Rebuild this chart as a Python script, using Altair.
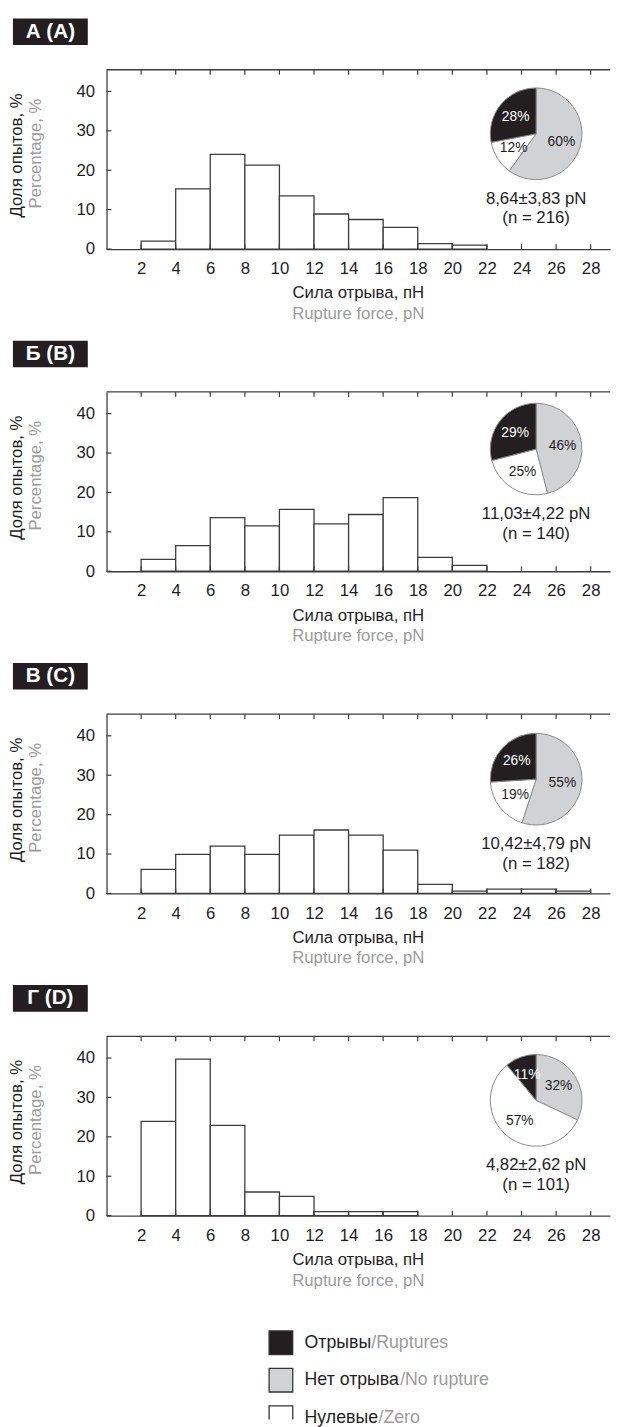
import altair as alt
import pandas as pd

# ---------------- data ----------------
bin_start = [2, 4, 6, 8, 10, 12, 14, 16, 18, 20, 22, 24, 26]
bin_width = 2
pct_A = [2.0, 15.3, 24.0, 21.3, 13.5, 8.9, 7.5, 5.5, 1.4, 1.0, 0, 0, 0]
pct_B = [3.0, 6.5, 13.6, 11.5, 15.7, 12.0, 14.4, 18.7, 3.5, 1.5, 0, 0, 0]
pct_C = [6.1, 9.9, 12.0, 9.9, 14.8, 16.1, 14.8, 11.0, 2.3, 0.6, 1.1, 1.1, 0.6]
pct_D = [23.9, 39.7, 22.9, 6.0, 4.9, 1.0, 1.0, 1.0, 0, 0, 0, 0, 0]

panel_labels = ["А (A)", "Б (B)", "В (C)", "Г (D)"]
stats_mean = ["8,64±3,83 pN", "11,03±4,22 pN", "10,42±4,79 pN", "4,82±2,62 pN"]
stats_n = ["(n = 216)", "(n = 140)", "(n = 182)", "(n = 101)"]

# pie slices, clockwise from 12 o'clock
pie_cats = ["Нет отрыва", "Нулевые", "Отрывы"]
pie_A = [60, 12, 28]
pie_B = [46, 25, 29]
pie_C = [55, 19, 26]
pie_D = [32, 57, 11]

x_ticks = [2, 4, 6, 8, 10, 12, 14, 16, 18, 20, 22, 24, 26, 28]
y_ticks = [0, 10, 20, 30, 40]

y_title_ru = "Доля опытов, %"
y_title_en = "Percentage, %"
x_title_ru = "Сила отрыва, пН"
x_title_en = "Rupture force, pN"

legend_ru = ["Отрывы", "Нет отрыва", "Нулевые"]
legend_en = ["/Ruptures", "/No rupture", "/Zero"]

# ---------------- style ----------------
W, H = 511, 182
XMAX, YMAX = 29.12, 45.5
FONT = "Liberation Sans"
DARK = "#231f20"
GRAY_FILL = "#d1d2d4"
GRAY_TXT = "#9b9b9b"
LINE = "#3c3c3c"
TXT = "#1e1e1e"

xs = alt.Scale(domain=[0, XMAX], nice=False, zero=False)
ys = alt.Scale(domain=[0, YMAX], nice=False)
x_axis = alt.Axis(values=x_ticks, ticks=False, tickSize=0, grid=False, title=None,
                  labelPadding=12, labelOverlap=False, domainColor=LINE, domainWidth=1.3)
y_axis = alt.Axis(values=y_ticks, ticks=False, tickSize=0, grid=False, title=None,
                  labelPadding=12, labelOverlap=False, domainColor=LINE, domainWidth=1.3)

pie_cy = [65, 58, 66, 65]
PIE_CX = 436
PIE_R = 46.5
LEG_X = 177
LEG_TX = 201
BOX_TOP, BOX_H = -52, 27
# approximate pixel widths of the black legend words at 18px (for placing the grey part)
LEG_W = [67.7, 97.0, 75.0]


def one(text):
    return pd.DataFrame({"t": [text]})


def panel(k, values, pie):
    df = pd.DataFrame({
        "x0": bin_start,
        "x1": [b + bin_width for b in bin_start],
        "pct": values,
    })
    df = df[df["pct"] > 0]
    bars = alt.Chart(df).mark_rect(fill="white", stroke=LINE, strokeWidth=1.3).encode(
        x=alt.X("x0:Q", scale=xs, axis=x_axis),
        x2="x1:Q",
        y=alt.Y("pct:Q", scale=ys, axis=y_axis),
        y2=alt.datum(0),
    )
    top = alt.Chart(one("")).mark_rule(color=LINE, strokeWidth=1.3).encode(
        x=alt.value(0), x2=alt.value(W), y=alt.value(0))
    xt = pd.DataFrame({"t": x_ticks})
    tick_top = alt.Chart(xt).mark_rule(color=LINE, strokeWidth=1.2).encode(
        x=alt.X("t:Q", scale=xs, axis=x_axis), y=alt.value(0), y2=alt.value(5))
    tick_bot = alt.Chart(xt).mark_rule(color=LINE, strokeWidth=1.2).encode(
        x=alt.X("t:Q", scale=xs, axis=x_axis), y=alt.value(H - 5), y2=alt.value(H))
    tick_y = alt.Chart(pd.DataFrame({"t": y_ticks})).mark_rule(color=LINE, strokeWidth=1.2).encode(
        y=alt.Y("t:Q", scale=ys, axis=y_axis), x=alt.value(0), x2=alt.value(5))

    pdf = pd.DataFrame({"cat": pie_cats, "v": pie, "o": [0, 1, 2]})
    pdf["lab"] = [f"{v}%" for v in pie]
    cy = pie_cy[k]
    arc = alt.Chart(pdf).mark_arc(outerRadius=PIE_R, stroke="#8a8a8a", strokeWidth=1).encode(
        theta=alt.Theta("v:Q", stack=True),
        color=alt.Color("cat:N", scale=alt.Scale(domain=pie_cats, range=[GRAY_FILL, "white", DARK]),
                        legend=None),
        order=alt.Order("o:Q"),
        x=alt.value(PIE_CX), y=alt.value(cy),
    )
    arc_txt = alt.Chart(pdf).mark_text(radius=27, fontSize=14).encode(
        theta=alt.Theta("v:Q", stack=True),
        order=alt.Order("o:Q"),
        text="lab:N",
        color=alt.condition(alt.datum.cat == "Отрывы", alt.value("white"), alt.value(TXT)),
        x=alt.value(PIE_CX), y=alt.value(cy),
    )
    st1 = alt.Chart(one(stats_mean[k])).mark_text(fontSize=17, color=TXT).encode(
        x=alt.value(PIE_CX), y=alt.value(cy + 66), text="t:N")
    st2 = alt.Chart(one(stats_n[k])).mark_text(fontSize=17, color=TXT).encode(
        x=alt.value(PIE_CX), y=alt.value(cy + 86), text="t:N")

    box = alt.Chart(one("")).mark_rect(color=DARK).encode(
        x=alt.value(-95), x2=alt.value(-19), y=alt.value(BOX_TOP), y2=alt.value(BOX_TOP + BOX_H))
    box_t = alt.Chart(one(panel_labels[k])).mark_text(
        fontSize=21, fontWeight="bold", color="white").encode(
        x=alt.value(-57), y=alt.value(BOX_TOP + BOX_H / 2), text="t:N")

    yt1 = alt.Chart(one(y_title_ru)).mark_text(angle=270, fontSize=17, color=TXT).encode(
        x=alt.value(-91), y=alt.value(H / 2 - 4), text="t:N")
    yt2 = alt.Chart(one(y_title_en)).mark_text(angle=270, fontSize=17, color=GRAY_TXT).encode(
        x=alt.value(-72), y=alt.value(H / 2 - 6), text="t:N")
    xt1 = alt.Chart(one(x_title_ru)).mark_text(fontSize=17, color=TXT).encode(
        x=alt.value(W / 2), y=alt.value(H + 45), text="t:N")
    xt2 = alt.Chart(one(x_title_en)).mark_text(fontSize=17, color=GRAY_TXT).encode(
        x=alt.value(W / 2), y=alt.value(H + 66), text="t:N")

    return alt.layer(bars, top, tick_top, tick_bot, tick_y, arc, arc_txt, st1, st2,
                     box, box_t, yt1, yt2, xt1, xt2).properties(width=W, height=H)


panels = [panel(0, pct_A, pie_A), panel(1, pct_B, pie_B),
          panel(2, pct_C, pie_C), panel(3, pct_D, pie_D)]

ldf = pd.DataFrame({"ru": legend_ru, "en": legend_en, "idx": [0, 1, 2], "w": LEG_W})
LH = 114
ly = alt.Y("idx:Q", scale=alt.Scale(domain=[0, 2], range=[36, 112]), axis=None)
lx = alt.X("w:Q", scale=alt.Scale(domain=[0, W], range=[LEG_TX, LEG_TX + W]), axis=None)
sq = alt.Chart(ldf).mark_point(shape="square", size=576, filled=True, opacity=1,
                               stroke="#333333", strokeWidth=1.3, clip=True).encode(
    x=alt.value(LEG_X), y=ly,
    fill=alt.Fill("ru:N", scale=alt.Scale(domain=legend_ru, range=[DARK, GRAY_FILL, "white"]),
                  legend=None))
lt_black = alt.Chart(ldf).mark_text(align="left", fontSize=18, color=TXT).encode(
    x=alt.value(LEG_TX), y=ly, text="ru:N")
lt_gray = alt.Chart(ldf).mark_text(align="left", fontSize=18, color=GRAY_TXT).encode(
    x=lx, y=ly, text="en:N")
legend = alt.layer(sq, lt_black, lt_gray).properties(width=W, height=LH)

chart = alt.vconcat(*panels, legend, spacing=19).properties(
    padding={"top": 0, "bottom": 0, "left": 0, "right": 0}
).configure(font=FONT).configure_view(strokeWidth=0).configure_axis(
    labelFont=FONT, labelFontSize=17, labelColor=TXT
).configure_text(font=FONT)

chart.save("out.html", embed_options={"renderer": "svg", "actions": False})
